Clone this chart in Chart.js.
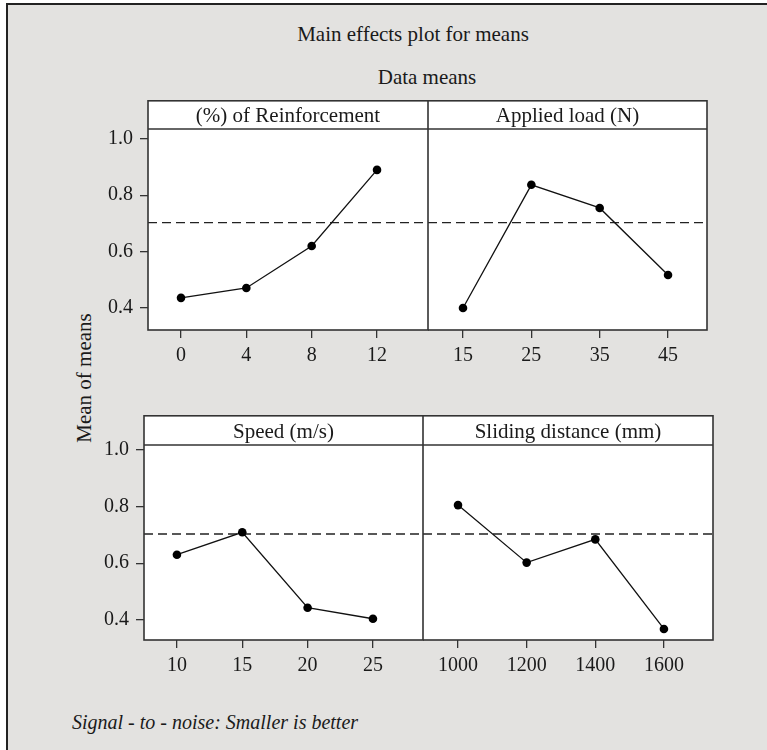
<!DOCTYPE html>
<html>
<head>
<meta charset="utf-8">
<script src="https://cdn.jsdelivr.net/npm/chart.js@4.4.0/dist/chart.umd.min.js"></script>
<style>
  body { margin: 0; background: #fff; }
  #page { position: relative; width: 767px; height: 750px; overflow: hidden; font-family: "Liberation Serif", serif; color: #1a1a1a; }
  #frame { position: absolute; left: 6px; top: 3px; width: 800px; height: 800px; background: #e3e2e0; border-top: 2px solid #222; border-left: 2px solid #222; }
  .txt { position: absolute; font-size: 21px; line-height: 24px; white-space: nowrap; }
  canvas { position: absolute; }
</style>
</head>
<body>
<div id="page">
  <div id="frame"></div>
  <div class="txt" style="left:413px; top:22px; transform:translateX(-50%);">Main effects plot for means</div>
  <div class="txt" style="left:427px; top:65px; transform:translateX(-50%);">Data means</div>
  <div class="txt" style="left:84px; top:378px; transform:translate(-50%,-50%) rotate(-90deg);">Mean of means</div>
  <div class="txt" style="left:72px; top:710px; font-size:20px; font-style:italic;">Signal - to - noise: Smaller is better</div>
</div>
<script>
// factor levels and mean responses
const reinforcement = [0, 4, 8, 12];
const reinforcementMeans = [0.436, 0.471, 0.62, 0.89];
const load = [15, 25, 35, 45];
const loadMeans = [0.40, 0.837, 0.755, 0.517];
const speed = [10, 15, 20, 25];
const speedMeans = [0.63, 0.709, 0.443, 0.404];
const distance = [1000, 1200, 1400, 1600];
const distanceMeans = [0.805, 0.602, 0.684, 0.368];
const meanTicks = [0.4, 0.6, 0.8, 1.0];
const grandMean = 0.703;

const FONT = '"Liberation Serif", serif';
const INK = '#1a1a1a';

// white panel + frame around header and plot area
const framePlugin = {
    id: 'frame',
    beforeDraw(chart) {
        const { ctx, chartArea: a } = chart;
        ctx.save();
        ctx.fillStyle = '#fff';
        ctx.fillRect(a.left, 0, a.right - a.left, a.bottom);
        ctx.restore();
    },
    afterDraw(chart) {
        const { ctx, chartArea: a } = chart;
        ctx.save();
        ctx.strokeStyle = '#333';
        ctx.lineWidth = 1.6;
        ctx.strokeRect(a.left, 0.8, a.right - a.left, a.bottom - 0.8);
        ctx.beginPath();
        ctx.moveTo(a.left, a.top);
        ctx.lineTo(a.right, a.top);
        ctx.stroke();
        ctx.restore();
    }
};

const panels = [
    { title: '(%) of Reinforcement', xs: reinforcement, ys: reinforcementMeans, left: 90, top: 100, w: 339, h: 271,
      xMin: -2.02, xMax: 15.12, yMin: 0.322, yMax: 1.035, yAxis: true, padTop: 6, padBottom: 2 },
    { title: 'Applied load (N)', xs: load, ys: loadMeans, left: 428, top: 100, w: 280, h: 271,
      xMin: 9.88, xMax: 50.7, yMin: 0.322, yMax: 1.035, yAxis: false, padTop: 6, padBottom: 2 },
    { title: 'Speed (m/s)', xs: speed, ys: speedMeans, left: 86, top: 415, w: 338, h: 266,
      xMin: 7.48, xMax: 28.83, yMin: 0.329, yMax: 1.017, yAxis: true, padTop: 7, padBottom: 2 },
    { title: 'Sliding distance (mm)', xs: distance, ys: distanceMeans, left: 423, top: 415, w: 291, h: 266,
      xMin: 898, xMax: 1743, yMin: 0.329, yMax: 1.017, yAxis: false, padTop: 7, padBottom: 2 }
];

function makePanel(p) {
    const canvas = document.createElement('canvas');
    canvas.width = p.w;
    canvas.height = p.h;
    canvas.style.left = p.left + 'px';
    canvas.style.top = p.top + 'px';
    document.getElementById('page').appendChild(canvas);

    const tickFont = { family: FONT, size: 20 };
    new Chart(canvas.getContext('2d'), {
        type: 'line',
        data: {
            datasets: [{
                data: p.xs.map((x, i) => ({ x: x, y: p.ys[i] })),
                borderColor: '#111',
                borderWidth: 1.3,
                pointRadius: 4.3,
                pointBackgroundColor: '#000',
                pointBorderWidth: 0,
                tension: 0
            }, {
                // grand mean reference line
                data: [{ x: p.xMin, y: grandMean }, { x: p.xMax, y: grandMean }],
                borderColor: '#222',
                borderWidth: 1.4,
                borderDash: [9, 5],
                pointRadius: 0
            }]
        },
        options: {
            responsive: false,
            animation: false,
            events: [],
            layout: { padding: { right: 1 }, autoPadding: false },
            plugins: {
                legend: { display: false },
                tooltip: { enabled: false },
                title: {
                    display: true,
                    text: p.title,
                    fullSize: false,
                    color: INK,
                    font: { family: FONT, size: 21, weight: 'normal', lineHeight: 1 },
                    padding: { top: p.padTop, bottom: p.padBottom }
                }
            },
            scales: {
                x: {
                    type: 'linear',
                    min: p.xMin,
                    max: p.xMax,
                    afterBuildTicks: s => { s.ticks = p.xs.map(v => ({ value: v })); },
                    ticks: { color: INK, font: tickFont, padding: 6, autoSkip: false, maxRotation: 0, callback: v => String(v) },
                    grid: { drawOnChartArea: false, tickLength: 8, color: '#333', lineWidth: 1.3 },
                    border: { display: false },
                    afterFit: s => { s.height = 41; s.paddingLeft = 0; s.paddingRight = 0; }
                },
                y: {
                    display: p.yAxis,
                    min: p.yMin,
                    max: p.yMax,
                    afterBuildTicks: s => { s.ticks = meanTicks.map(v => ({ value: v })); },
                    ticks: { color: INK, font: tickFont, padding: 7, autoSkip: false, callback: v => v.toFixed(1) },
                    grid: { drawOnChartArea: false, tickLength: 8, color: '#333', lineWidth: 1.3 },
                    border: { display: false },
                    afterFit: s => { s.width = p.yAxis ? 58 : 0; s.paddingTop = 0; s.paddingBottom = 0; }
                }
            }
        },
        plugins: [framePlugin]
    });
}

panels.forEach(makePanel);
</script>
</body>
</html>
